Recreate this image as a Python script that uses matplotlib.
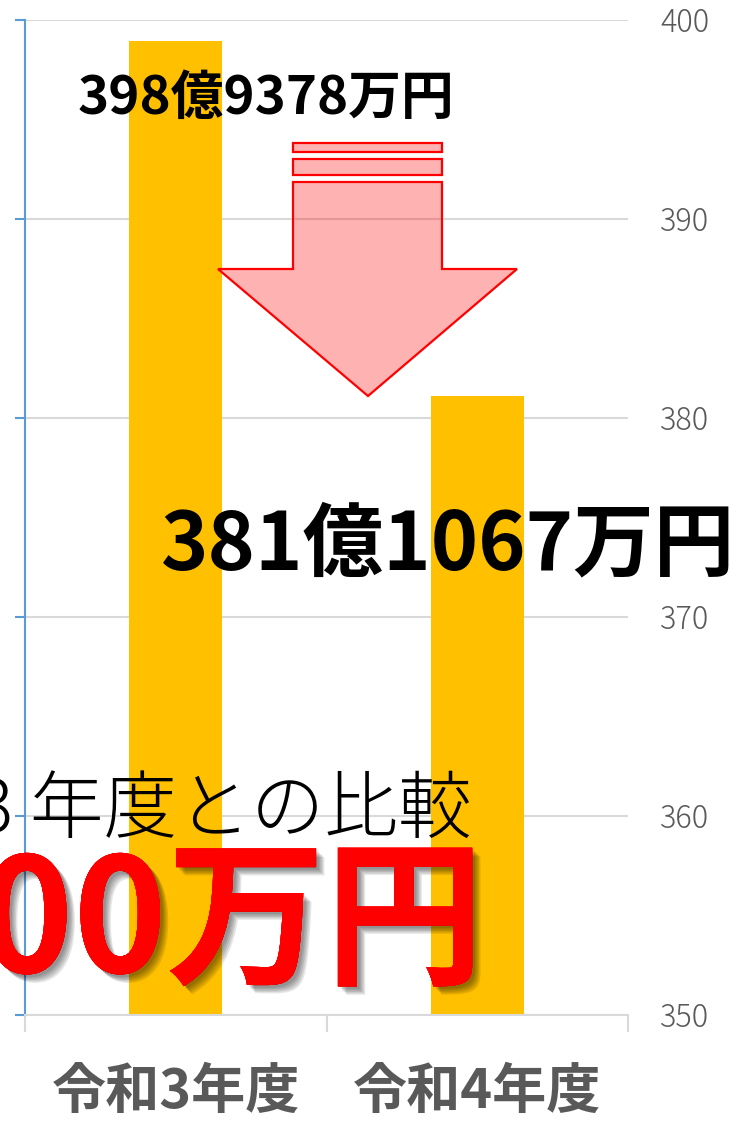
import matplotlib
matplotlib.use("Agg")
import matplotlib.pyplot as plt
import matplotlib.patheffects as pe
from matplotlib.patches import Polygon
import numpy as np

plt.rcParams['font.family'] = ['Noto Sans CJK JP', 'DejaVu Sans']

# ---- data ----
categories = ['令和3年度', '令和4年度']
values = [398.9378, 381.1067]
yticks = [350, 360, 370, 380, 390, 400]
label_r3 = '398億9378万円'
label_r4 = '381億1067万円'
compare_text = '令和3 年度との比較'
diff_text = '約17億8300万円'

W, H = 743, 1131
fig = plt.figure(figsize=(W / 100, H / 100), dpi=100)
ax = fig.add_axes([25 / W, 1 - 1015 / H, (628 - 25) / W, (1015 - 20) / H])

x = np.arange(len(categories))
ax.bar(x, values, width=0.31, color='#FFC000', zorder=2)
ax.set_xlim(-0.5, 1.5)
ax.set_ylim(350, 400)

# grid / spines
ax.set_yticks(yticks)
ax.grid(axis='y', color='#D9D9D9', linewidth=1.5, zorder=0)
ax.set_axisbelow(True)
for s in ['top', 'right']:
    ax.spines[s].set_visible(False)
ax.spines['left'].set_color('#5B9BD5')
ax.spines['left'].set_linewidth(1.5)
ax.spines['bottom'].set_color('#D9D9D9')
ax.spines['bottom'].set_linewidth(1.5)

ax.tick_params(axis='y', left=True, right=False, labelleft=False, labelright=True,
               length=7, width=1.5, color='#5B9BD5', direction='out',
               labelsize=22, labelcolor='#595959', pad=16)
for t in ax.get_yticklabels():
    t.set_fontweight('light')

ax.set_xticks(x)
ax.set_xticklabels(categories, fontsize=39, fontweight='bold', color='#595959')
ax.set_xticks([-0.5, 0.5, 1.5], minor=True)
ax.tick_params(axis='x', which='major', length=0, pad=36)
ax.tick_params(axis='x', which='minor', length=12, width=1.5, color='#D9D9D9')

# helper for figure-pixel coords (from top-left)
def fp(px, py):
    return (px / W, 1 - py / H)

# arrow shapes
arrow_kw = dict(facecolor=(1, 0, 0, 0.3), edgecolor='#FF0000', linewidth=1.6,
                transform=fig.transFigure, zorder=5)
stripe1 = [fp(293, 143), fp(442, 143), fp(442, 152), fp(293, 152)]
stripe2 = [fp(293, 159), fp(442, 159), fp(442, 175), fp(293, 175)]
main = [fp(293, 182), fp(442, 182), fp(442, 269), fp(517, 269),
        fp(368, 396), fp(218, 269), fp(293, 269)]
for poly in (stripe1, stripe2, main):
    fig.patches.append(Polygon(poly, closed=True, **arrow_kw))

# value labels
fig.text(*fp(266, 98), label_r3, fontsize=38, fontweight='bold', color='black',
         ha='center', va='center', zorder=6)
fig.text(*fp(448, 546), label_r4, fontsize=58, fontweight='bold', color='black',
         ha='center', va='center', zorder=6)

# comparison texts
fig.text(*fp(472, 812), compare_text, fontsize=53, fontweight='light', color='black',
         ha='right', va='center', zorder=6)
shadow = [pe.withSimplePatchShadow(offset=(o, -o), shadow_rgbFace='black', alpha=0.1)
          for o in (2, 3, 4, 5, 6)]
fig.text(*fp(484, 926), diff_text, fontsize=114, fontweight='bold', color='#FF0000',
         ha='right', va='center', zorder=7,
         path_effects=shadow + [pe.Normal()])

fig.savefig('out.png', dpi=100)
